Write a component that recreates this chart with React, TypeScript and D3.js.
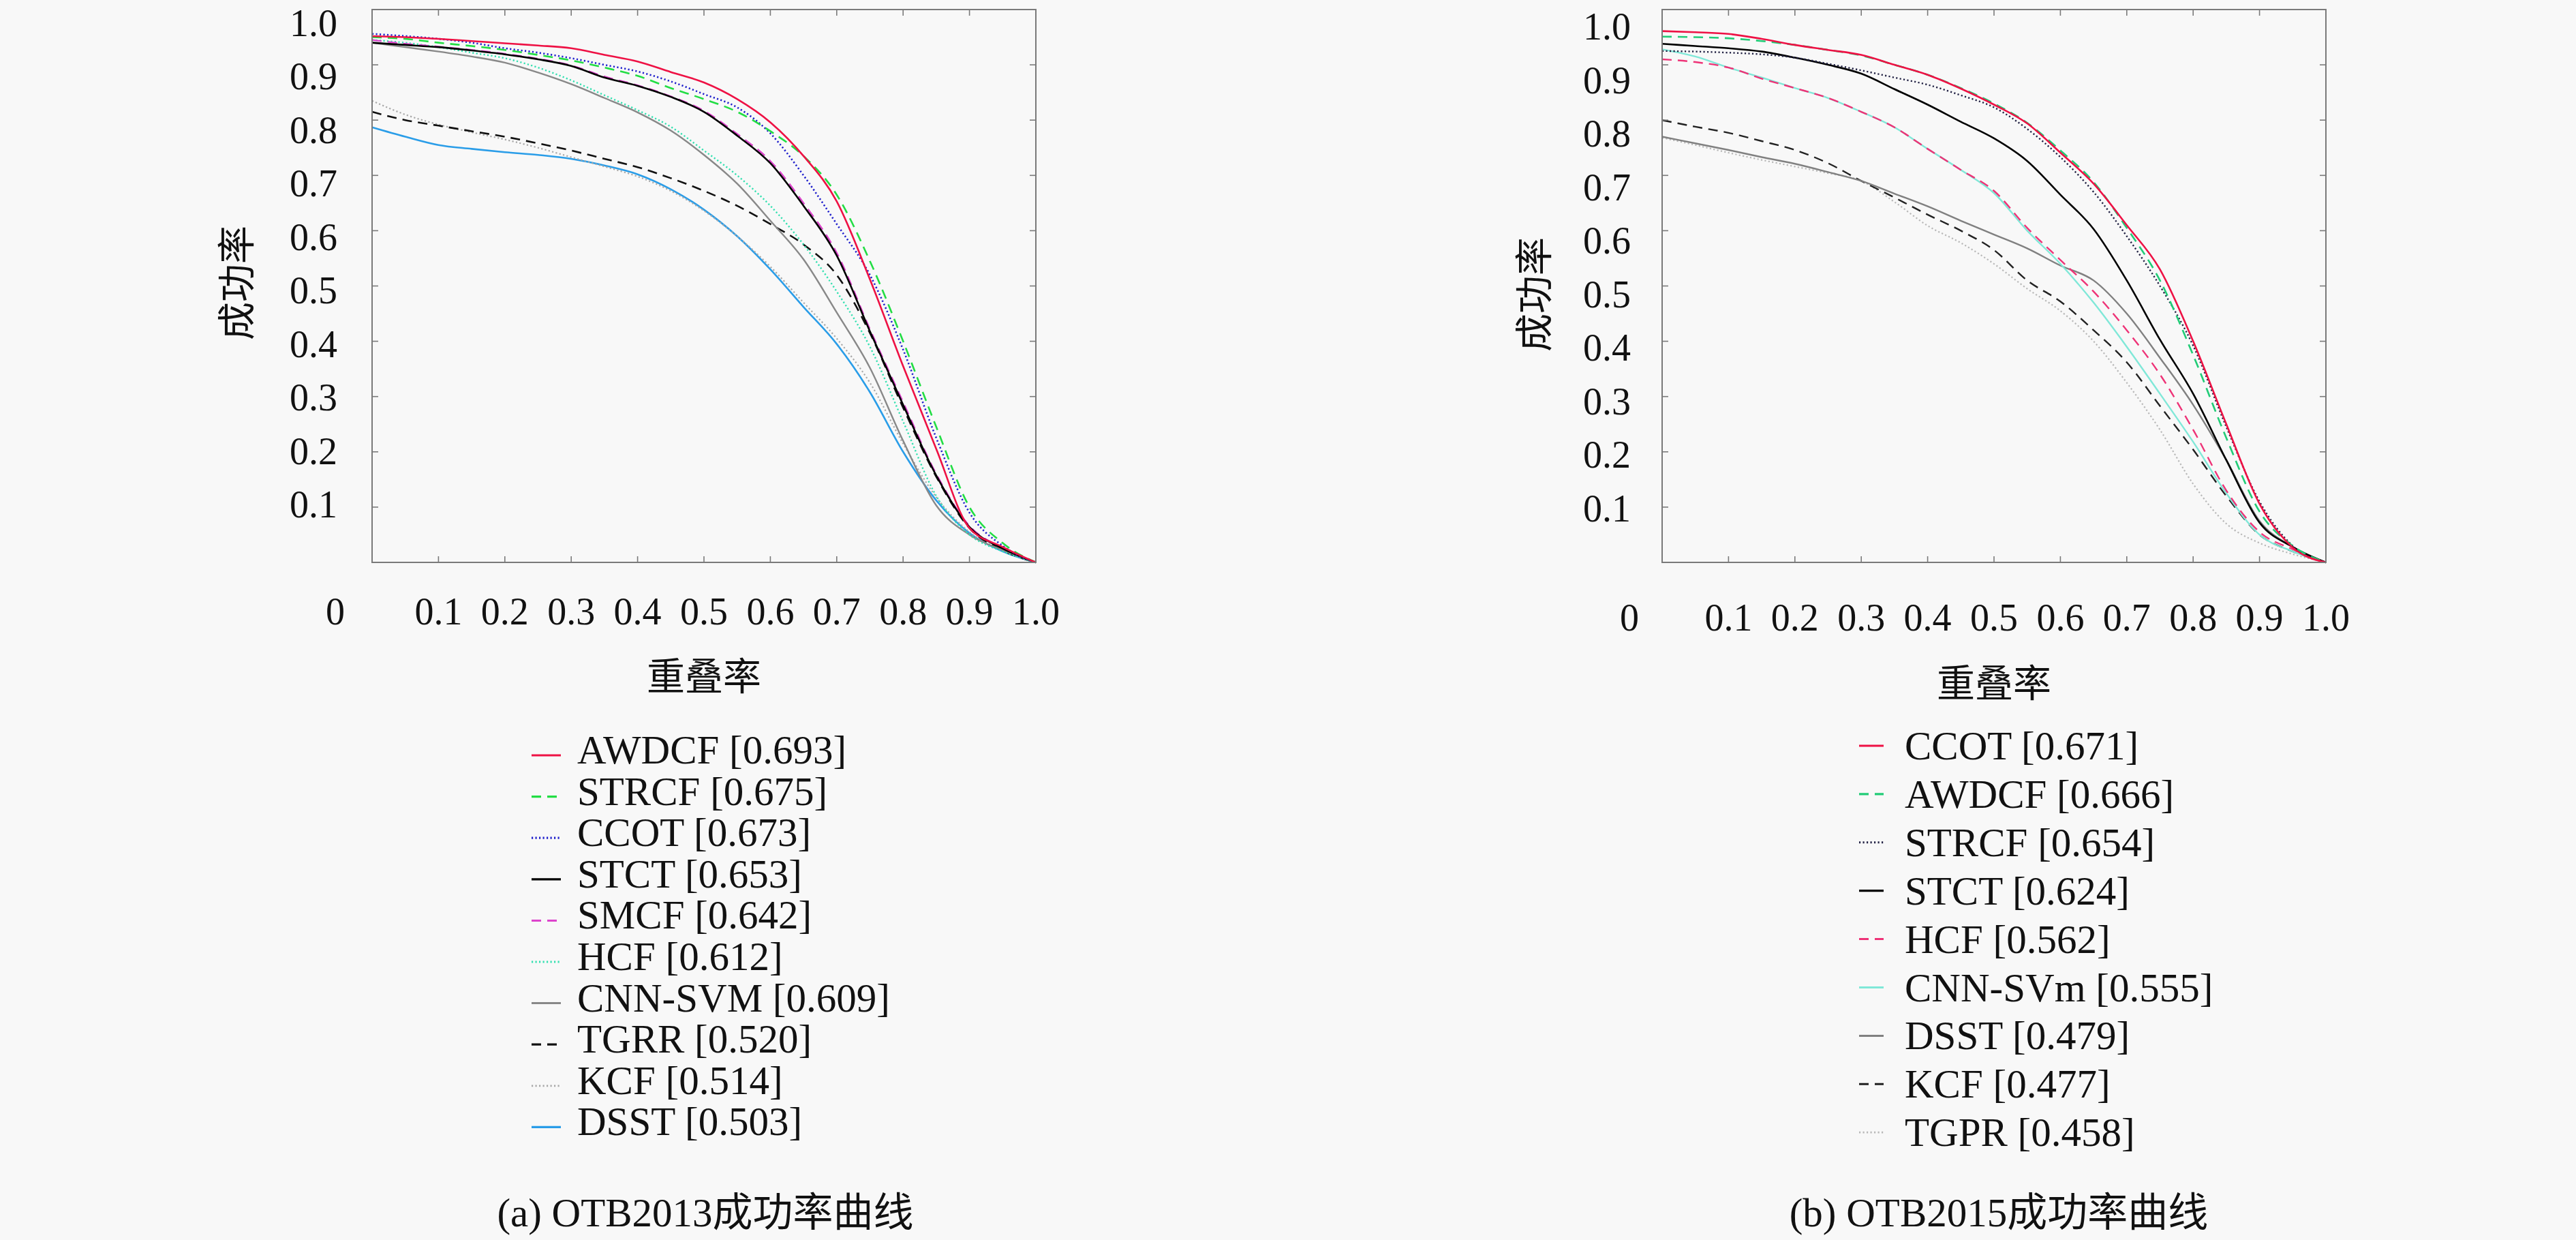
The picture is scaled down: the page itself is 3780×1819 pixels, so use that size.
import React from "react";
import * as d3 from "d3";

// ---------- data ----------
const OVERLAP = [0, 0.05, 0.1, 0.15, 0.2, 0.25, 0.3, 0.35, 0.4, 0.45, 0.5, 0.55, 0.6, 0.65, 0.7, 0.75, 0.8, 0.85, 0.9, 0.95, 1.0];

const X_TICKS = [0.1, 0.2, 0.3, 0.4, 0.5, 0.6, 0.7, 0.8, 0.9, 1.0];
const X_TICK_LABELS = ["0.1", "0.2", "0.3", "0.4", "0.5", "0.6", "0.7", "0.8", "0.9", "1.0"];
const Y_TICKS = [0.1, 0.2, 0.3, 0.4, 0.5, 0.6, 0.7, 0.8, 0.9, 1.0];
const Y_TICK_LABELS = ["0.1", "0.2", "0.3", "0.4", "0.5", "0.6", "0.7", "0.8", "0.9", "1.0"];
const ORIGIN_LABEL = "0";
const X_TITLE = "重叠率";
const Y_TITLE = "成功率";

// OTB2013
const NAMES_A = ["AWDCF", "STRCF", "CCOT", "STCT", "SMCF", "HCF", "CNN-SVM", "TGRR", "KCF", "DSST"];
const AUC_A = ["0.693", "0.675", "0.673", "0.653", "0.642", "0.612", "0.609", "0.520", "0.514", "0.503"];
const awdcf13 = [0.952, 0.95, 0.947, 0.943, 0.939, 0.935, 0.93, 0.918, 0.906, 0.887, 0.868, 0.838, 0.796, 0.735, 0.653, 0.512, 0.355, 0.205, 0.062, 0.028, 0];
const strcf13 = [0.95, 0.947, 0.94, 0.934, 0.927, 0.918, 0.908, 0.895, 0.88, 0.858, 0.838, 0.815, 0.78, 0.735, 0.665, 0.545, 0.4, 0.245, 0.1, 0.035, 0];
const ccot13 = [0.956, 0.952, 0.947, 0.94, 0.93, 0.922, 0.912, 0.9, 0.888, 0.87, 0.847, 0.823, 0.776, 0.7, 0.612, 0.52, 0.385, 0.225, 0.09, 0.03, 0];
const stct13 = [0.94, 0.936, 0.932, 0.926, 0.919, 0.91, 0.898, 0.877, 0.862, 0.842, 0.815, 0.772, 0.722, 0.645, 0.555, 0.418, 0.285, 0.157, 0.064, 0.025, 0];
const smcf13 = [0.945, 0.938, 0.933, 0.927, 0.92, 0.911, 0.899, 0.879, 0.863, 0.843, 0.817, 0.775, 0.726, 0.65, 0.56, 0.422, 0.29, 0.16, 0.066, 0.026, 0];
const hcf13 = [0.945, 0.94, 0.932, 0.922, 0.912, 0.895, 0.872, 0.845, 0.818, 0.788, 0.745, 0.7, 0.645, 0.575, 0.49, 0.39, 0.255, 0.12, 0.05, 0.02, 0];
const cnnsvm13 = [0.94, 0.932, 0.924, 0.915, 0.904, 0.886, 0.865, 0.84, 0.814, 0.781, 0.737, 0.685, 0.618, 0.548, 0.452, 0.352, 0.22, 0.103, 0.05, 0.022, 0];
const tgrr13 = [0.815, 0.8, 0.79, 0.78, 0.77, 0.758, 0.745, 0.73, 0.715, 0.695, 0.672, 0.645, 0.612, 0.575, 0.52, 0.415, 0.28, 0.155, 0.062, 0.022, 0];
const kcf13 = [0.835, 0.81, 0.792, 0.778, 0.765, 0.75, 0.733, 0.716, 0.698, 0.672, 0.636, 0.59, 0.535, 0.47, 0.405, 0.325, 0.215, 0.118, 0.055, 0.022, 0];
const dsst13 = [0.787, 0.77, 0.755, 0.748, 0.742, 0.737, 0.73, 0.718, 0.702, 0.675, 0.638, 0.59, 0.53, 0.462, 0.395, 0.308, 0.2, 0.112, 0.053, 0.02, 0];
const VALUES_A = [awdcf13, strcf13, ccot13, stct13, smcf13, hcf13, cnnsvm13, tgrr13, kcf13, dsst13];
const CAPTION_A = "(a) OTB2013成功率曲线";

// OTB2015
const NAMES_B = ["CCOT", "AWDCF", "STRCF", "STCT", "HCF", "CNN-SVm", "DSST", "KCF", "TGPR"];
const AUC_B = ["0.671", "0.666", "0.654", "0.624", "0.562", "0.555", "0.479", "0.477", "0.458"];
const ccot15 = [0.961, 0.959, 0.956, 0.947, 0.936, 0.927, 0.918, 0.9, 0.882, 0.857, 0.828, 0.794, 0.741, 0.685, 0.61, 0.53, 0.4, 0.25, 0.106, 0.027, 0];
const awdcf15 = [0.951, 0.95, 0.948, 0.943, 0.936, 0.927, 0.917, 0.9, 0.882, 0.858, 0.83, 0.795, 0.745, 0.688, 0.605, 0.51, 0.375, 0.225, 0.092, 0.03, 0];
const strcf15 = [0.925, 0.924, 0.922, 0.919, 0.913, 0.902, 0.89, 0.877, 0.864, 0.845, 0.823, 0.784, 0.733, 0.67, 0.59, 0.5, 0.392, 0.245, 0.11, 0.03, 0];
const stct15 = [0.938, 0.934, 0.93, 0.924, 0.913, 0.9, 0.884, 0.856, 0.828, 0.797, 0.767, 0.726, 0.665, 0.603, 0.51, 0.403, 0.305, 0.185, 0.072, 0.028, 0];
const hcf15 = [0.91, 0.905, 0.895, 0.875, 0.858, 0.84, 0.815, 0.787, 0.748, 0.71, 0.672, 0.605, 0.547, 0.49, 0.42, 0.34, 0.24, 0.13, 0.055, 0.024, 0];
const cnnsvm15 = [0.928, 0.915, 0.895, 0.877, 0.858, 0.84, 0.815, 0.787, 0.748, 0.71, 0.668, 0.6, 0.54, 0.47, 0.39, 0.305, 0.218, 0.125, 0.05, 0.02, 0];
const dsst15 = [0.77, 0.758, 0.746, 0.733, 0.721, 0.706, 0.69, 0.667, 0.644, 0.618, 0.593, 0.568, 0.537, 0.51, 0.45, 0.37, 0.285, 0.185, 0.075, 0.028, 0];
const kcf15 = [0.8, 0.788, 0.777, 0.762, 0.746, 0.722, 0.69, 0.66, 0.629, 0.6, 0.565, 0.51, 0.472, 0.42, 0.362, 0.283, 0.204, 0.12, 0.05, 0.02, 0];
const tgpr15 = [0.768, 0.755, 0.741, 0.728, 0.716, 0.704, 0.69, 0.652, 0.609, 0.578, 0.54, 0.495, 0.455, 0.4, 0.325, 0.24, 0.142, 0.07, 0.035, 0.015, 0];
const VALUES_B = [ccot15, awdcf15, strcf15, stct15, hcf15, cnnsvm15, dsst15, kcf15, tgpr15];
const CAPTION_B = "(b) OTB2015成功率曲线";

// ---------- styles ----------
const DASH = "14,9";
const DOT = "2.2,3.3";
type Sty = { color: string; dash?: string; width: number };
const STYLE_A: Sty[] = [
  { color: "#ee1144", width: 2.6 },
  { color: "#22dd44", dash: DASH, width: 2.6 },
  { color: "#2020cc", dash: DOT, width: 2.6 },
  { color: "#000000", width: 2.6 },
  { color: "#dd44cc", dash: DASH, width: 2.4 },
  { color: "#33e0b0", dash: DOT, width: 2.4 },
  { color: "#888888", width: 2.4 },
  { color: "#111111", dash: DASH, width: 2.6 },
  { color: "#a8a8a8", dash: DOT, width: 2.2 },
  { color: "#2a9de8", width: 2.6 },
];
const STYLE_B: Sty[] = [
  { color: "#ee1144", width: 2.6 },
  { color: "#22cc77", dash: DASH, width: 2.6 },
  { color: "#222244", dash: DOT, width: 2.4 },
  { color: "#000000", width: 2.6 },
  { color: "#ee3377", dash: DASH, width: 2.4 },
  { color: "#80e8d8", width: 2.4 },
  { color: "#808080", width: 2.4 },
  { color: "#222222", dash: DASH, width: 2.4 },
  { color: "#b8b8b8", dash: DOT, width: 2.2 },
];

const FONT = "'Liberation Serif', 'Noto Sans CJK SC', serif";
const AXIS = "#7a7a7a";

type PanelProps = {
  x0: number;
  names: string[];
  aucs: string[];
  values: number[][];
  styles: Sty[];
  caption: string;
  yLabTop: number;
  yLabBottom: number;
  yLabGap: number;
  xLabY: number;
  originGap: number;
  xTitleY: number;
  yTitleX: number;
  yTitleY: number;
  legX: number;
  legY: number;
  legStep: number;
  legSample: number;
  legSampleRise: number;
  captionX: number;
};

function Panel(p: PanelProps) {
  const W = 974;
  const top = 14;
  const bottom = 825;
  const x = d3.scaleLinear().domain([0, 1]).range([p.x0, p.x0 + W]);
  const y = d3.scaleLinear().domain([0, 1]).range([bottom, top]);
  const yLab = d3.scaleLinear().domain([0.1, 1]).range([p.yLabBottom, p.yLabTop]);
  const line = d3
    .line<number>()
    .x((_, i) => x(OVERLAP[i]))
    .y((d) => y(d))
    .curve(d3.curveMonotoneX);
  const tick = 9;
  const order = p.values.map((_, i) => i).reverse();
  return (
    <g>
      {order.map((i) => (
        <path
          key={"c" + i}
          d={line(p.values[i]) || ""}
          fill="none"
          stroke={p.styles[i].color}
          strokeWidth={p.styles[i].width}
          strokeDasharray={p.styles[i].dash}
          strokeLinejoin="round"
        />
      ))}
      <rect x={x(0)} y={y(1)} width={x(1) - x(0)} height={y(0) - y(1)} fill="none" stroke={AXIS} strokeWidth={2} />
      {X_TICKS.slice(0, -1).map((t) => (
        <g key={"xt" + t}>
          <line x1={x(t)} x2={x(t)} y1={y(0)} y2={y(0) - tick} stroke={AXIS} strokeWidth={1.6} />
          <line x1={x(t)} x2={x(t)} y1={y(1)} y2={y(1) + tick} stroke={AXIS} strokeWidth={1.6} />
        </g>
      ))}
      {Y_TICKS.slice(0, -1).map((t) => (
        <g key={"yt" + t}>
          <line x1={x(0)} x2={x(0) + tick} y1={y(t)} y2={y(t)} stroke={AXIS} strokeWidth={1.6} />
          <line x1={x(1)} x2={x(1) - tick} y1={y(t)} y2={y(t)} stroke={AXIS} strokeWidth={1.6} />
        </g>
      ))}
      {X_TICKS.map((t, i) => (
        <text key={"xl" + t} x={x(t)} y={p.xLabY} textAnchor="middle" dominantBaseline="central" fontFamily={FONT} fontSize={56} fill="#111">
          {X_TICK_LABELS[i]}
        </text>
      ))}
      <text x={x(0) - p.originGap} y={p.xLabY} textAnchor="middle" dominantBaseline="central" fontFamily={FONT} fontSize={56} fill="#111">
        {ORIGIN_LABEL}
      </text>
      {Y_TICKS.map((t, i) => (
        <text key={"yl" + t} x={x(0) - p.yLabGap} y={yLab(t)} textAnchor="end" dominantBaseline="central" fontFamily={FONT} fontSize={56} fill="#111">
          {Y_TICK_LABELS[i]}
        </text>
      ))}
      <text x={(x(0) + x(1)) / 2} y={p.xTitleY} textAnchor="middle" dominantBaseline="central" fontFamily={FONT} fontSize={56} fill="#111">
        {X_TITLE}
      </text>
      <text
        transform={`translate(${p.yTitleX},${p.yTitleY}) rotate(-90)`}
        textAnchor="middle"
        dominantBaseline="central"
        fontFamily={FONT}
        fontSize={56}
        fill="#111"
      >
        {Y_TITLE}
      </text>
      {p.names.map((n, i) => {
        const by = p.legY + i * p.legStep;
        const st = p.styles[i];
        return (
          <g key={"lg" + i}>
            <line
              x1={p.legX - 67}
              x2={p.legX - 67 + p.legSample}
              y1={by - p.legSampleRise}
              y2={by - p.legSampleRise}
              stroke={st.color}
              strokeWidth={st.width + 0.6}
              strokeDasharray={st.dash}
            />
            <text x={p.legX} y={by} fontFamily={FONT} fontSize={59} fill="#111">
              {n} [{p.aucs[i]}]
            </text>
          </g>
        );
      })}
      <text x={p.captionX} y={1779} textAnchor="middle" dominantBaseline="central" fontFamily={FONT} fontSize={59} fill="#111">
        {p.caption}
      </text>
    </g>
  );
}

export default function App() {
  return (
    <svg
      width={3780}
      height={1819}
      viewBox="0 0 3780 1819"
      style={{ position: "absolute", left: 0, top: 0, display: "block" }}
    >
      <rect x={0} y={0} width={3780} height={1819} fill="#f8f8f8" />
      <Panel
        x0={546}
        names={NAMES_A}
        aucs={AUC_A}
        values={VALUES_A}
        styles={STYLE_A}
        caption={CAPTION_A}
        yLabTop={34}
        yLabBottom={740}
        yLabGap={51}
        xLabY={897}
        originGap={54}
        xTitleY={993}
        yTitleX={348}
        yTitleY={415}
        legX={847}
        legY={1120}
        legStep={60.6}
        legSample={43}
        legSampleRise={12}
        captionX={1035}
      />
      <Panel
        x0={2439}
        names={NAMES_B}
        aucs={AUC_B}
        values={VALUES_B}
        styles={STYLE_B}
        caption={CAPTION_B}
        yLabTop={39}
        yLabBottom={746}
        yLabGap={46}
        xLabY={906}
        originGap={48}
        xTitleY={1003}
        yTitleX={2252}
        yTitleY={432}
        legX={2795}
        legY={1114}
        legStep={70.9}
        legSample={36}
        legSampleRise={20}
        captionX={2933}
      />
    </svg>
  );
}
